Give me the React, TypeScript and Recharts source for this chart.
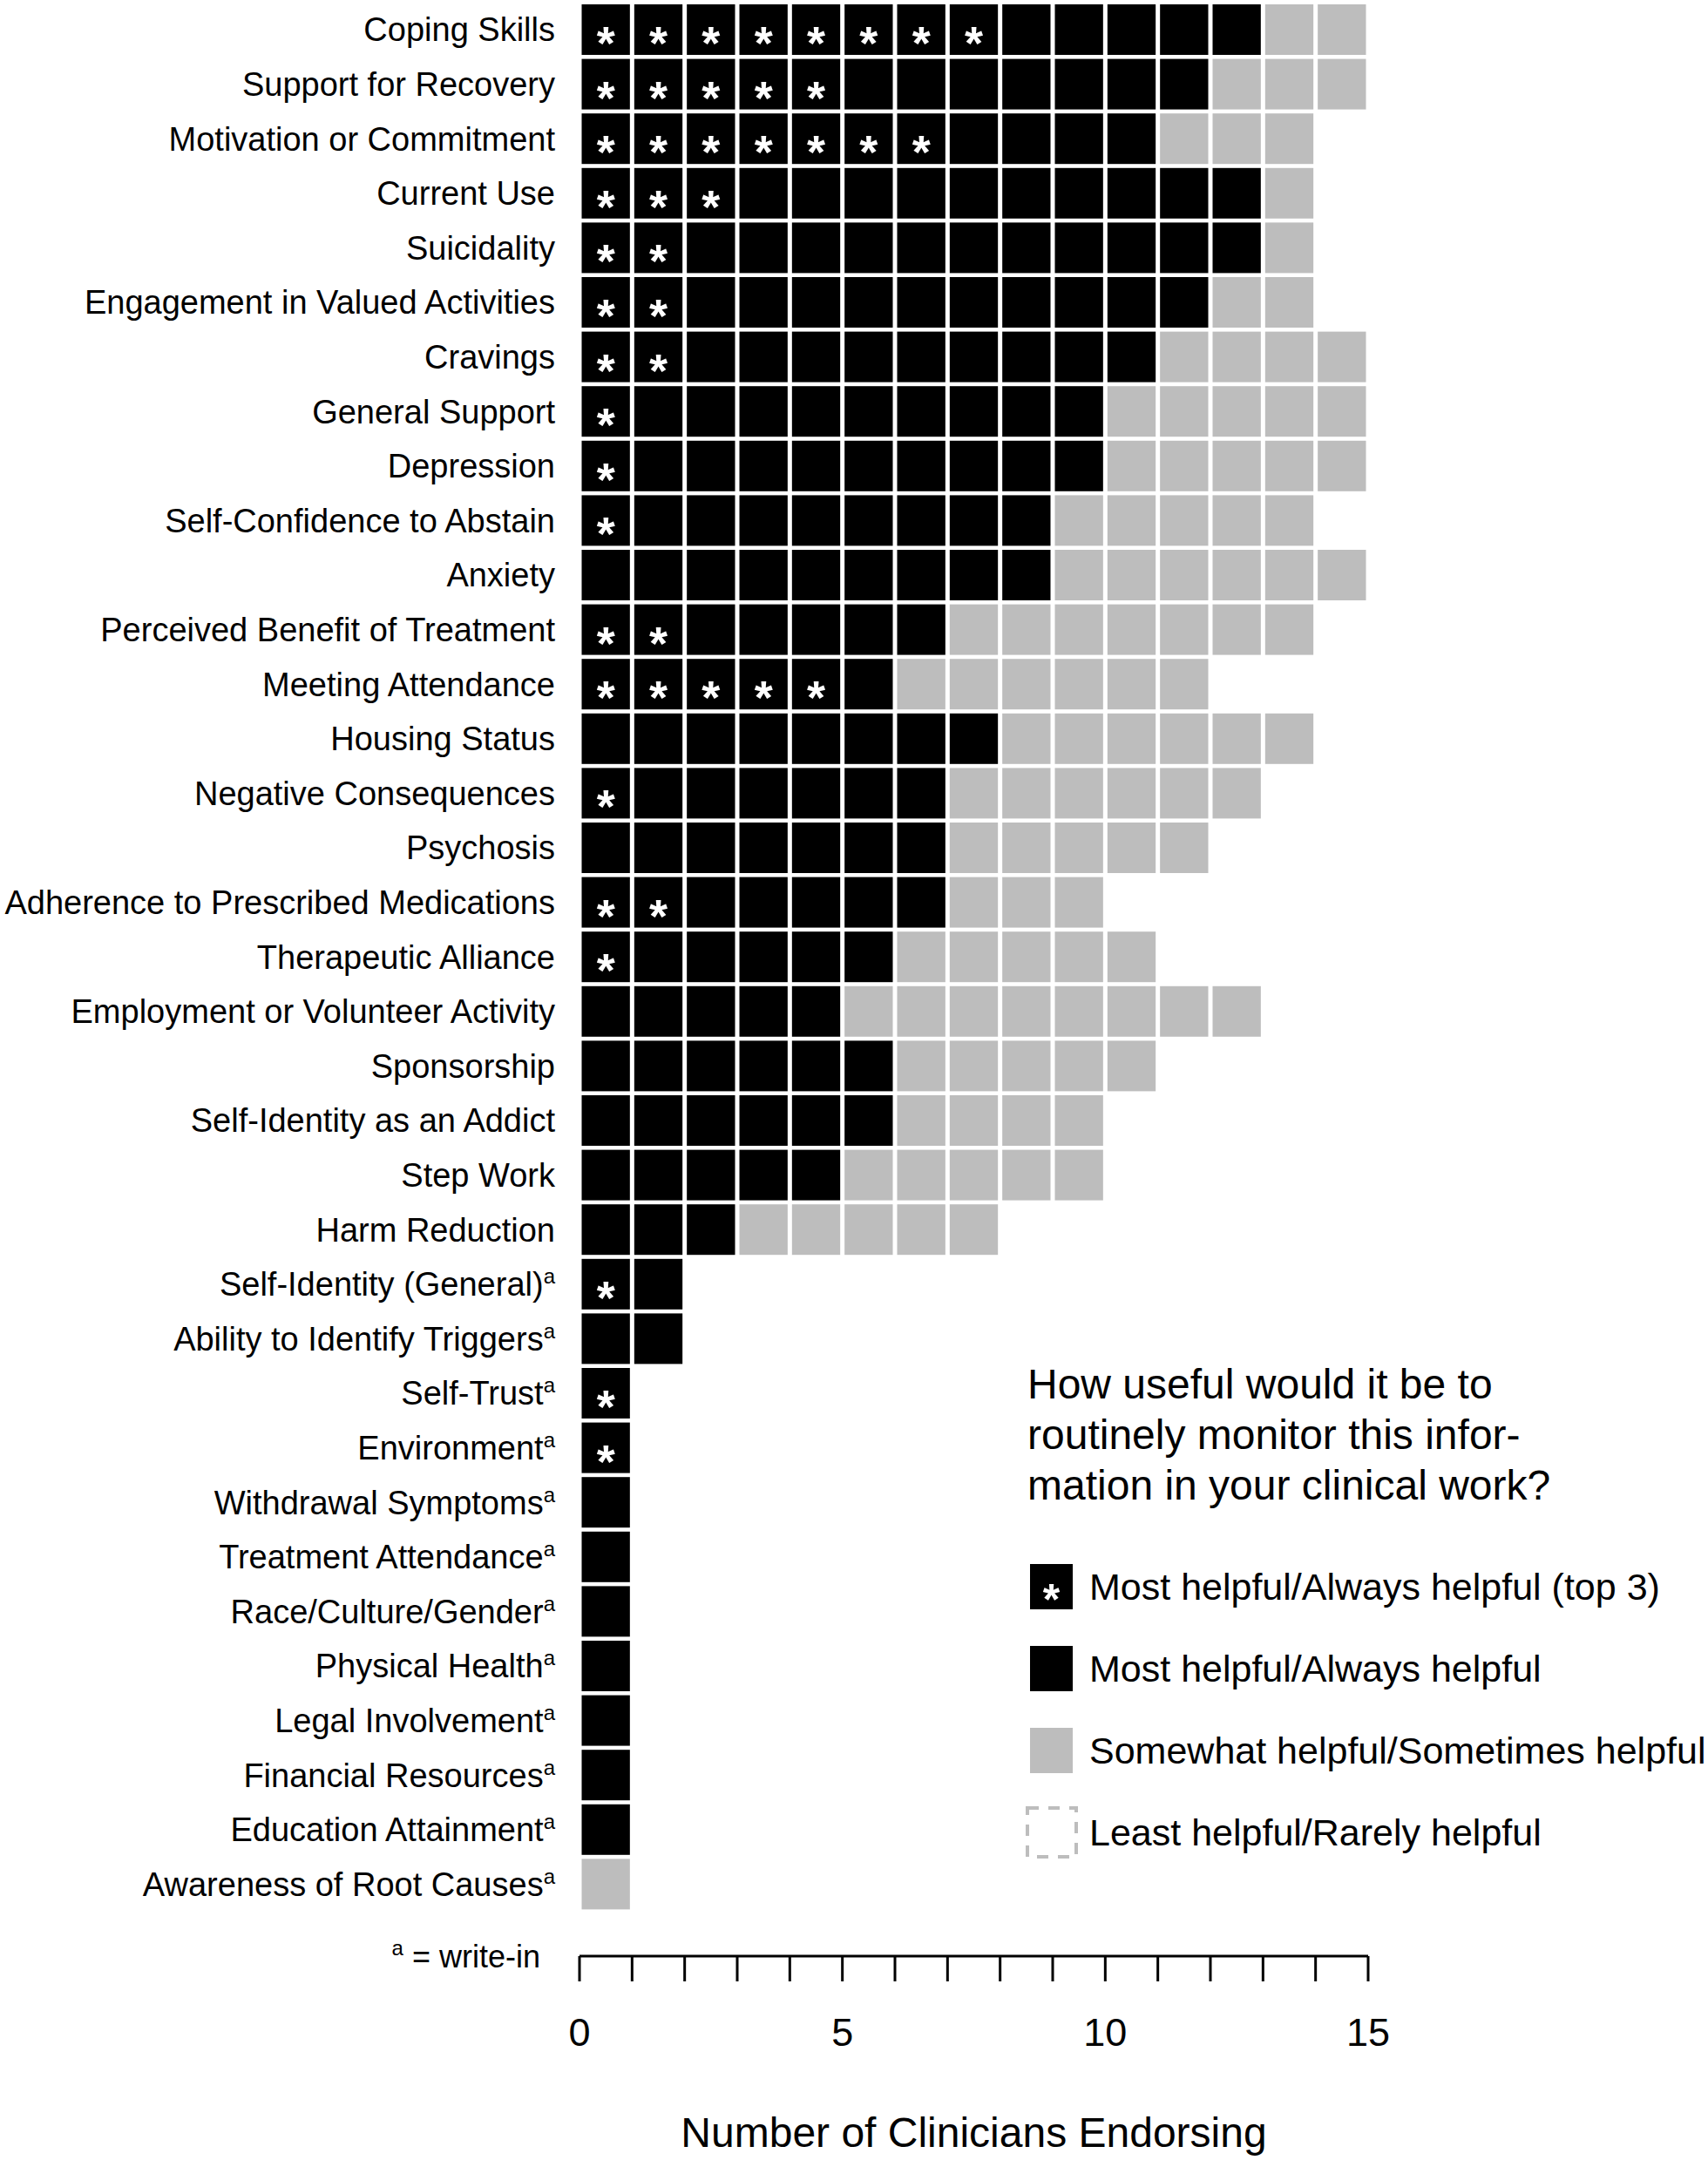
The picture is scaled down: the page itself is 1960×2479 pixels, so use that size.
import React from "react";

import { Bar, BarChart, Label, Legend, XAxis, YAxis } from "recharts";


const FONT = "'Liberation Sans', Arial, Helvetica, sans-serif";
const BLACK = "#000000";
const GRAY = "#bdbdbd";

const categories = [
  "Coping Skills",
  "Support for Recovery",
  "Motivation or Commitment",
  "Current Use",
  "Suicidality",
  "Engagement in Valued Activities",
  "Cravings",
  "General Support",
  "Depression",
  "Self-Confidence to Abstain",
  "Anxiety",
  "Perceived Benefit of Treatment",
  "Meeting Attendance",
  "Housing Status",
  "Negative Consequences",
  "Psychosis",
  "Adherence to Prescribed Medications",
  "Therapeutic Alliance",
  "Employment or Volunteer Activity",
  "Sponsorship",
  "Self-Identity as an Addict",
  "Step Work",
  "Harm Reduction",
  "Self-Identity (General)",
  "Ability to Identify Triggers",
  "Self-Trust",
  "Environment",
  "Withdrawal Symptoms",
  "Treatment Attendance",
  "Race/Culture/Gender",
  "Physical Health",
  "Legal Involvement",
  "Financial Resources",
  "Education Attainment",
  "Awareness of Root Causes"
];

// write-in items get a superscript "a"
const writeIn = [
  false, false, false, false, false, false, false, false, false, false, false, false,
  false, false, false, false, false, false, false, false, false, false, false,
  true, true, true, true, true, true, true, true, true, true, true, true
];

const topThree = [8, 5, 7, 3, 2, 2, 2, 1, 1, 1, 0, 2, 5, 0, 1, 0, 2, 1, 0, 0, 0, 0, 0, 1, 0, 1, 1, 0, 0, 0, 0, 0, 0, 0, 0];
const alwaysHelpful = [5, 7, 4, 10, 11, 10, 9, 9, 9, 8, 9, 5, 1, 8, 6, 7, 5, 5, 5, 6, 6, 5, 3, 1, 2, 0, 0, 1, 1, 1, 1, 1, 1, 1, 0];
const sometimesHelpful = [2, 3, 3, 1, 1, 2, 4, 5, 5, 5, 6, 7, 6, 6, 6, 5, 3, 5, 8, 5, 4, 5, 5, 0, 0, 0, 0, 0, 0, 0, 0, 0, 0, 0, 1];
const rarelyHelpful = [0, 0, 0, 0, 0, 0, 0, 0, 0, 0, 0, 0, 0, 0, 0, 0, 0, 0, 0, 0, 0, 0, 0, 0, 0, 0, 0, 0, 0, 0, 0, 0, 0, 0, 0];

const xTicks = [0, 1, 2, 3, 4, 5, 6, 7, 8, 9, 10, 11, 12, 13, 14, 15];

const legendItems = [
  { key: "top", label: "Most helpful/Always helpful (top 3)" },
  { key: "always", label: "Most helpful/Always helpful" },
  { key: "sometimes", label: "Somewhat helpful/Sometimes helpful" },
  { key: "rarely", label: "Least helpful/Rarely helpful" }
];

const data = categories.map((name, i) => ({
  name,
  top: topThree[i],
  always: alwaysHelpful[i],
  sometimes: sometimesHelpful[i],
  rarely: rarelyHelpful[i]
}));


// splits a stacked segment into one box per clinician
const unitCells = (key: string, kind: string) => (props: any) => {
  const count = props.payload ? props.payload[key] : 0;
  if (!count || !props.width) return <g />;
  const unit = props.width / count;
  const cells = [];
  for (let i = 0; i < count; i++) {
    const cx = props.x + i * unit;
    cells.push(
      <g key={i}>
        {kind === "rarely" ? (
          <rect x={cx + 4} y={props.y + 2} width={unit - 8} height={props.height - 4}
            fill="none" stroke={GRAY} strokeWidth={4} strokeDasharray="12 10" />
        ) : (
          <rect x={cx + 2.5} y={props.y} width={unit - 5} height={props.height}
            fill={kind === "sometimes" ? GRAY : BLACK} />
        )}
        {kind === "top" && (
          <text x={cx + unit / 2} y={props.y + props.height / 2 + 34} textAnchor="middle"
            fill="#ffffff" fontSize={54} fontWeight="bold" fontFamily={FONT}>*</text>
        )}
      </g>
    );
  }
  return <g>{cells}</g>;
};


const CategoryTick = (props: any) => {
  const { x, y, payload } = props;
  const idx = categories.indexOf(payload.value);
  return (
    <text x={x} y={y + 13} textAnchor="end" fontSize={38} fontFamily={FONT} fill="#000">
      {payload.value}
      {writeIn[idx] && <tspan dy={-14} fontSize={24}>a</tspan>}
    </text>
  );
};

const CountTick = (props: any) => {
  const { x, y, payload } = props;
  if (payload.value % 5 !== 0) return <g />;
  return (
    <text x={x} y={y + 74} textAnchor="middle" fontSize={45} fontFamily={FONT} fill="#000">
      {payload.value}
    </text>
  );
};

const AxisTitle = (props: any) => {
  const vb = props.viewBox;
  return (
    <g>
      <text x={vb.x + vb.width / 2} y={vb.y + 219} textAnchor="middle" fontSize={48} fontFamily={FONT} fill="#000">
        Number of Clinicians Endorsing
      </text>
      <text x={vb.x - 45} y={vb.y + 13} textAnchor="end" fontSize={36} fontFamily={FONT} fill="#000">
        <tspan fontSize={24} dy={-14}>a</tspan>
        <tspan dy={14}> = write-in</tspan>
      </text>
    </g>
  );
};

// legend swatches are drawn in a tall box so the asterisk glyph box fits inside
const LegendSymbol = ({ kind }: { kind: string }) => (
  <svg width={60} height={100} style={{ display: "block" }}>
    {kind === "rarely" ? (
      <rect x={2} y={22} width={56} height={56} fill="none" stroke={GRAY} strokeWidth={4} strokeDasharray="13 11" />
    ) : (
      <rect x={5} y={24} width={49} height={52} fill={kind === "sometimes" ? GRAY : BLACK} />
    )}
    {kind === "top" && (
      <text x={29.5} y={82} textAnchor="middle" fill="#fff" fontSize={50} fontWeight="bold" fontFamily={FONT}>*</text>
    )}
  </svg>
);

const LegendBox = () => (
  <div style={{ position: "relative", width: 780, height: 600, fontFamily: FONT, color: "#000" }}>
    <div style={{ position: "absolute", left: 2, top: 0, fontSize: 48, lineHeight: "58px", whiteSpace: "nowrap" }}>
      How useful would it be to<br />routinely monitor this infor-<br />mation in your clinical work?
    </div>
    {legendItems.map((item, i) => (
      <div key={item.key} style={{ position: "absolute", left: 0, top: 211 + i * 94, height: 100, display: "flex", alignItems: "center", whiteSpace: "nowrap" }}>
        <LegendSymbol kind={item.key} />
        <span style={{ marginLeft: 13, fontSize: 43, lineHeight: "60px" }}>{item.label}</span>
      </div>
    ))}
  </div>
);


const App: React.FC = () => {
  return (
    <div style={{ width: 1960, height: 2479, background: "#fff" }}>
      <style>{"body { margin: 0; background: #fff; }"}</style>
      <BarChart width={1960} height={2479} data={data} layout="vertical" barSize={58}
        margin={{ top: 3, right: 390, bottom: 0, left: 0 }}>
        <XAxis type="number" domain={[0, 15]} ticks={xTicks} interval={0} height={234}
          tickSize={29} tickMargin={0} tick={<CountTick />}
          axisLine={{ stroke: "#000", strokeWidth: 3 }} tickLine={{ stroke: "#000", strokeWidth: 3 }}>
          <Label content={<AxisTitle />} />
        </XAxis>
        <YAxis type="category" dataKey="name" width={665} padding={{ top: 0, bottom: 51 }}
          axisLine={false} tickLine={false} tickSize={0} tickMargin={28} interval={0}
          tick={<CategoryTick />} />
        <Legend layout="vertical" align="center" verticalAlign="middle" content={<LegendBox />}
          wrapperStyle={{ position: "absolute", left: 1177, top: 1560, width: 780, height: 600 }} />
        <Bar dataKey="top" stackId="a" isAnimationActive={false} shape={unitCells("top", "top")} />
        <Bar dataKey="always" stackId="a" isAnimationActive={false} shape={unitCells("always", "always")} />
        <Bar dataKey="sometimes" stackId="a" isAnimationActive={false} shape={unitCells("sometimes", "sometimes")} />
        <Bar dataKey="rarely" stackId="a" isAnimationActive={false} shape={unitCells("rarely", "rarely")} />
      </BarChart>
    </div>
  );
};

export default App;
